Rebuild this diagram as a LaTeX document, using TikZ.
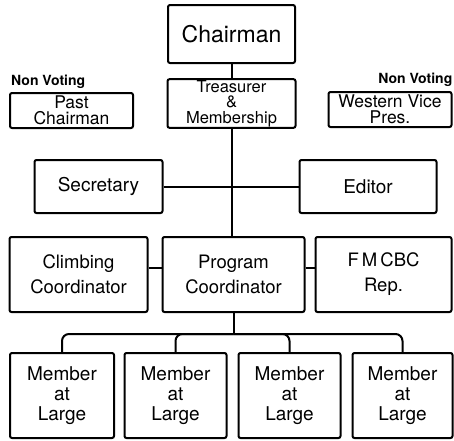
\documentclass[tikz,border=0pt]{standalone}
\usepackage{fontspec}
\setmainfont{TeX Gyre Heros}
\usepackage{tikz}
\usetikzlibrary{shapes, positioning}
\tikzstyle{office} = [rectangle, rounded corners = 2pt, draw = black, line width = 2pt,
align = center, inner sep = 1pt]
\tikzstyle{chair} = [office, minimum width = 127pt, minimum height = 58pt, font = \fontsize{23}{26}\selectfont]
\tikzstyle{nonvoting} = [office, minimum width = 123pt, minimum height = 35pt, font = \fontsize{17.5}{16}\selectfont]
\tikzstyle{officer} = [office, minimum height = 53pt, font = \fontsize{19}{22}\selectfont]
\tikzstyle{coordinator} = [office, minimum width = 138pt, minimum height = 75pt, font = \fontsize{18.5}{25}\selectfont]
\tikzstyle{member} = [office, minimum width = 102pt, minimum height = 85pt, font = \fontsize{19}{20}\selectfont]
\tikzstyle{note} = [inner sep = 0pt, font = \bfseries\fontsize{14}{16}\selectfont]
\tikzstyle{line} = [line width = 2pt]

\begin{document}
\begin{tikzpicture}
\useasboundingbox (0,0) rectangle (454pt,-440pt);
\node (chairman) [chair] at (231.5pt,-34pt) {Chairman};
\node (treasurer) [office, below of = chairman, node distance = 69.5pt, minimum width = 128pt,
minimum height = 48pt, font = \fontsize{16.5}{15.5}\selectfont] {Treasurer\\\&\\Membership};
\node (past) [nonvoting, left of = treasurer, node distance = 160pt, yshift = -7pt] {Past\\Chairman};
\node (western) [nonvoting, right of = treasurer, node distance = 158.5pt, yshift = -6pt] {Western Vice\\Pres.};
\node (pastnote) [note, anchor = base west] at ([xshift = 2pt, yshift = 7pt]past.north west) {Non Voting};
\node (westernnote) [note, anchor = base east] at ([yshift = 8pt]western.north east) {Non Voting};

\node (secretary) [officer, below of = treasurer, node distance = 83pt, xshift = -133pt, minimum width = 128pt] {Secretary};
\node (editor) [officer, below of = treasurer, node distance = 83pt, xshift = 136.5pt, minimum width = 137pt] {Editor};

\node (program) [coordinator, below of = treasurer, node distance = 171pt, xshift = 2pt, minimum width = 142pt] {Program\\Coordinator};
\node (climbing) [coordinator, left of = program, node distance = 155pt] {Climbing\\Coordinator};
\node (fmcbc) [coordinator, right of = program, node distance = 150pt, minimum width = 136pt] {F\,M\,CBC\\Rep.};

\node (m2) [member, below of = program, node distance = 121pt, xshift = -58pt] {Member\\at\\Large};
\node (m3) [member, below of = program, node distance = 121pt, xshift = 56pt] {Member\\at\\Large};
\node (m1) [member, left of = m2, node distance = 113.5pt, minimum width = 104pt] {Member\\at\\Large};
\node (m4) [member, right of = m3, node distance = 113pt, minimum width = 100pt] {Member\\at\\Large};
\coordinate (bus) at ([yshift = -21pt]program.south);

\draw[line] (chairman) -- (treasurer);
\draw[line] (treasurer.south) -- (treasurer.south |- program.north);
\draw[line] (secretary) -- (editor);
\draw[line] ([yshift = 7pt]climbing.east) -- ([yshift = 7pt]program.west);
\draw[line] ([yshift = 7pt]program.east) -- ([yshift = 7pt]fmcbc.west);
\draw[line] (program) -- (bus);
\foreach \m in {m1, m2, m3, m4}
  \draw[line, rounded corners = 7pt] (\m.north) |- (bus);
\end{tikzpicture}
\end{document}
